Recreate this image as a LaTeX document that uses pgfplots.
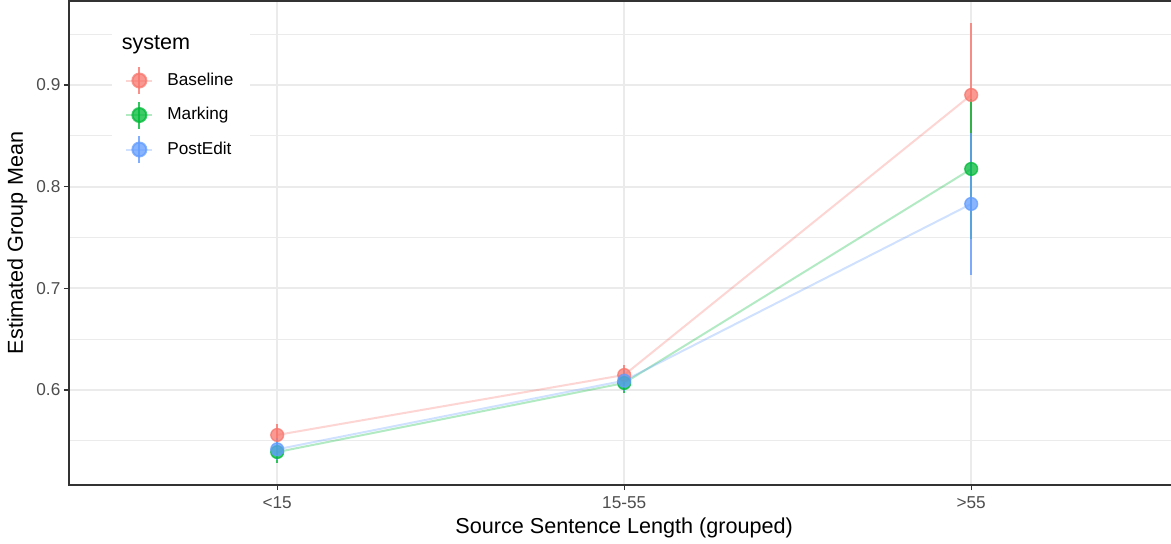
\documentclass[border=0pt]{standalone}
\usepackage{pgfplots}
\pgfplotsset{compat=1.18}
\usepackage{fontspec}
\setmainfont{Liberation Sans}
\definecolor{bred}{HTML}{F8766D}
\definecolor{bgreen}{HTML}{00BA38}
\definecolor{bblue}{HTML}{619CFF}
\definecolor{gridc}{HTML}{EBEBEB}
\definecolor{framec}{HTML}{333333}
\definecolor{tickc}{HTML}{4D4D4D}
\pgfplotsset{
  sysplot/.style={
    color=#1, line width=1pt, draw opacity=0.3,
    mark=*, mark size=3.2pt,
    mark options={draw opacity=0.75, fill opacity=0.75, line width=0.7pt, fill=#1},
    error bars/.cd, y dir=both, y explicit, error mark=none,
    error bar style={line width=1pt, draw opacity=0.8, color=#1},
    /pgfplots/.cd,
    legend image code/.code={
      \draw[line width=1pt, opacity=0.3] (0pt,0pt) -- (13pt,0pt);
      \draw[line width=1pt, opacity=0.8] (6.5pt,-6.75pt) -- (6.5pt,6.75pt);
      \fill[opacity=0.75] (6.5pt,0pt) circle (3.5pt);
    },
  },
}
\begin{document}
\begin{tikzpicture}
\begin{axis}[
  at={(0,0)}, anchor=south west,
  scale only axis,
  width=555.2pt, height=242pt,
  xmin=-0.6, xmax=2.6, ymin=0.5066, ymax=0.9826,
  xtick={0,1,2}, xticklabels={<15,15-55,>55},
  ytick={0.6,0.7,0.8,0.9},
  minor ytick={0.55,0.65,0.75,0.85,0.95},
  yticklabel style={/pgf/number format/fixed, /pgf/number format/precision=1, xshift=1.8pt},
  /pgf/number format/assume math mode=true,
  xmajorgrids, ymajorgrids, yminorgrids,
  major grid style={color=gridc, line width=1pt},
  minor grid style={color=gridc, line width=0.5pt},
  axis line style={color=framec, line width=0.6pt},
  tick align=outside, major tick length=2.6pt, minor tick length=0pt,
  tick style={color=framec, line width=0.6pt},
  xtick pos=bottom, ytick pos=left,
  ticklabel style={font=\fontsize{8.6}{10}\selectfont, text=tickc},
  xticklabel style={anchor=base, yshift=-9pt},
  xlabel={Source Sentence Length (grouped)},
  ylabel={Estimated Group Mean},
  label style={font=\fontsize{10.8}{12}\selectfont},
  xlabel style={at={(axis description cs:0.5,-0.0971)}, anchor=base, yshift=-0.8pt},
  ylabel style={at={(axis description cs:-0.04143,0.5)}, anchor=base},
  legend style={at={(axis description cs:0.0387,0.955)}, anchor=north west,
    draw=none, fill=white, font=\fontsize{8.6}{10}\selectfont,
    row sep=2.75pt, inner xsep=6.5pt, inner ysep=4pt,
    /tikz/every odd column/.append style={column sep=5pt}},
  legend cell align=left,
  clip=false,
]
\addlegendimage{empty legend}
\addlegendentry{\hspace*{-22.8pt}\raisebox{2.2pt}{\fontsize{10.8}{12}\selectfont system}}
\addplot[sysplot=bred] coordinates {
  (0,0.5558) +- (0,0.0108)
  (1,0.6148) +- (0,0.0098)
  (2,0.8902) +- (0,0.0710)
};
\addlegendentry{Baseline}
\addplot[sysplot=bgreen] coordinates {
  (0,0.5390) +- (0,0.0110)
  (1,0.6069) +- (0,0.0100)
  (2,0.8174) +- (0,0.0690)
};
\addlegendentry{Marking}
\addplot[sysplot=bblue] coordinates {
  (0,0.5417) +- (0,0.0110)
  (1,0.6092) +- (0,0.0100)
  (2,0.7830) +- (0,0.0700)
};
\addlegendentry{PostEdit}
\end{axis}
\pgfresetboundingbox
\path[use as bounding box] (-34.5pt,-29.5pt) rectangle (551pt,242.5pt);
\end{tikzpicture}
\end{document}
